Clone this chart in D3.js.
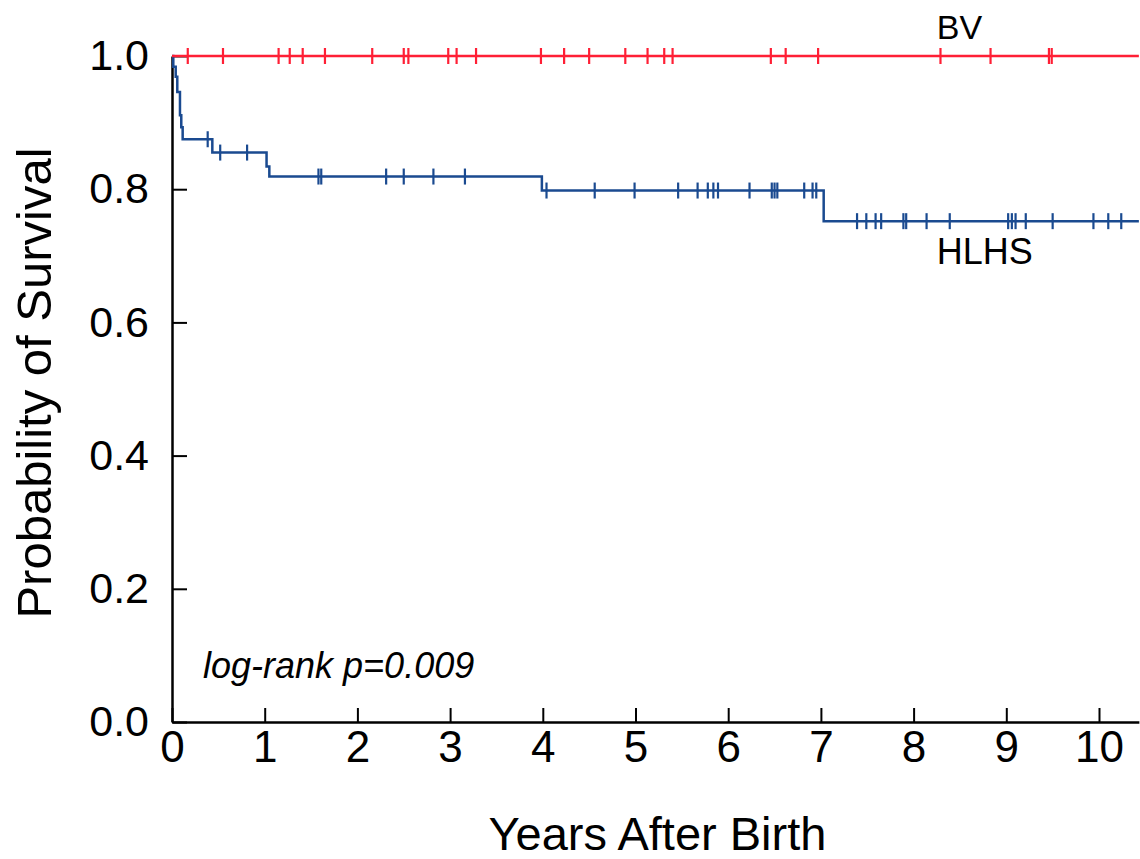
<!DOCTYPE html>
<html>
<head>
<meta charset="utf-8">
<script src="https://cdn.jsdelivr.net/npm/d3@7"></script>
<style>
  body { margin: 0; background: #fff; }
  svg text { font-family: "Liberation Sans", Arial, sans-serif; }
</style>
</head>
<body>
<div id="chart"></div>
<script>
// BV group: no deaths, censor marks only
const bvCensor = [0.17, 0.55, 1.15, 1.27, 1.41, 1.65, 2.16, 2.50, 2.55, 2.98, 3.07, 3.28,
    3.98, 4.23, 4.50, 4.89, 5.13, 5.31, 5.40, 6.46, 6.62, 6.97, 8.29, 8.83, 9.46, 9.49]

// HLHS group: step times and survival after each step
const hlhsTimes = [0.014, 0.04, 0.057, 0.086, 0.10, 0.115, 0.435, 1.02, 1.05, 3.99, 7.03]
const hlhsSurv = [0.984, 0.969, 0.946, 0.911, 0.893, 0.875, 0.855, 0.834, 0.819, 0.798, 0.752]
const hlhsCensor = [0.385, 0.52, 0.81, 1.58, 1.61, 2.31, 2.50, 2.82, 3.16, 4.04, 4.56, 4.99,
    5.46, 5.67, 5.78, 5.84, 5.89, 6.23, 6.47, 6.50, 6.53, 6.82, 6.91, 6.95, 7.39, 7.49,
    7.59, 7.65, 7.89, 7.92, 8.14, 8.39, 9.02, 9.06, 9.10, 9.21, 9.50, 9.94, 10.10, 10.24]

const xTicks = [0, 1, 2, 3, 4, 5, 6, 7, 8, 9, 10]
const yTicks = [0, 0.2, 0.4, 0.6, 0.8, 1.0]
const xMax = 10.43

const width = 1140, height = 859
const x0 = 172, x10 = 1099

const svg = d3.select("#chart")
    .append("svg")
    .attr("width", width)
    .attr("height", height)

const x = d3.scaleLinear().domain([0, 10]).range([x0, x10])
const y = d3.scaleLinear().domain([0, 1]).range([722, 56])

function survAt(t) {
    let s = 1
    for (let i = 0; i < hlhsTimes.length; i++) {
        if (hlhsTimes[i] <= t) s = hlhsSurv[i]
    }
    return s
}

const hlhsPts = [{ t: 0, s: 1 }]
hlhsTimes.forEach((t, i) => hlhsPts.push({ t: t, s: hlhsSurv[i] }))
hlhsPts.push({ t: xMax, s: hlhsSurv[hlhsSurv.length - 1] })

const bvPts = [{ t: 0, s: 1 }, { t: xMax, s: 1 }]

const line = d3.line()
    .x(d => x(d.t))
    .y(d => y(d.s))
    .curve(d3.curveStepAfter)

const blue = "#1a4a90"
const red = "#ff1f35"

// axes
const xAxis = d3.axisBottom(x.copy().domain([0, xMax]).range([x0, x(xMax)]))
    .tickValues(xTicks)
    .tickSize(-14)
    .tickSizeOuter(0)
    .tickPadding(9)
    .tickFormat(d3.format("d"))

const gx = svg.append("g")
    .attr("transform", "translate(0,722)")
    .call(xAxis)
gx.select(".domain").attr("stroke-width", 2.5)
gx.selectAll(".tick line").attr("stroke-width", 2)
gx.selectAll(".tick text").style("font-size", "44px").attr("fill", "#000")

const yAxis = d3.axisLeft(y)
    .tickValues(yTicks)
    .tickSize(-15)
    .tickSizeOuter(0)
    .tickPadding(23)
    .tickFormat(d3.format(".1f"))

const gy = svg.append("g")
    .attr("transform", `translate(${x0},0)`)
    .call(yAxis)
gy.select(".domain").attr("stroke-width", 2.5)
gy.selectAll(".tick line").attr("stroke-width", 2)
gy.selectAll(".tick text").style("font-size", "43px").attr("fill", "#000")

// curves
svg.append("path")
    .datum(hlhsPts)
    .attr("fill", "none")
    .attr("stroke", blue)
    .attr("stroke-width", 2.5)
    .attr("d", line)

svg.append("g")
    .selectAll("line")
    .data(hlhsCensor)
    .join("line")
    .attr("x1", d => x(d)).attr("x2", d => x(d))
    .attr("y1", d => y(survAt(d)) - 8)
    .attr("y2", d => y(survAt(d)) + 8)
    .attr("stroke", blue)
    .attr("stroke-width", 2.2)

svg.append("path")
    .datum(bvPts)
    .attr("fill", "none")
    .attr("stroke", red)
    .attr("stroke-width", 2.5)
    .attr("d", line)

svg.append("g")
    .selectAll("line")
    .data(bvCensor)
    .join("line")
    .attr("x1", d => x(d)).attr("x2", d => x(d))
    .attr("y1", y(1) - 8)
    .attr("y2", y(1) + 8)
    .attr("stroke", red)
    .attr("stroke-width", 2.2)

// labels
svg.append("text")
    .attr("x", x(8.25)).attr("y", 39)
    .style("font-size", "34px")
    .text("BV")

svg.append("text")
    .attr("x", x(8.25)).attr("y", 264)
    .style("font-size", "36px")
    .text("HLHS")

svg.append("text")
    .attr("x", 203).attr("y", 678)
    .style("font-size", "36px")
    .style("font-style", "italic")
    .text("log-rank p=0.009")

svg.append("text")
    .attr("x", (x0 + x(xMax)) / 2 + 2).attr("y", 850)
    .attr("text-anchor", "middle")
    .style("font-size", "47px")
    .text("Years After Birth")

svg.append("text")
    .attr("transform", "translate(51,383) rotate(-90)")
    .attr("text-anchor", "middle")
    .style("font-size", "49px")
    .text("Probability of Survival")
</script>
</body>
</html>
